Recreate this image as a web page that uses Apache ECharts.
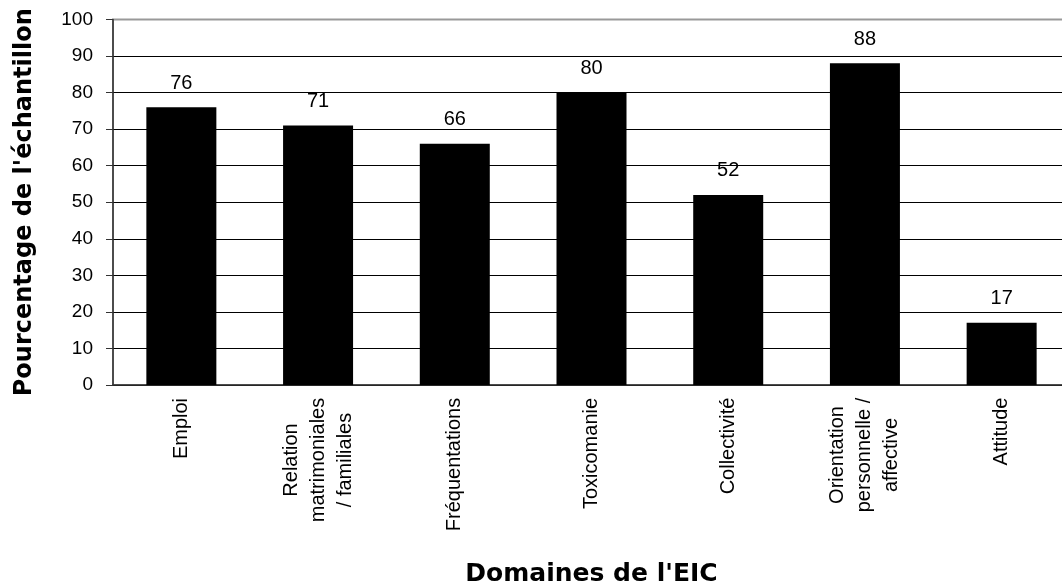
<!DOCTYPE html>
<html>
<head>
<meta charset="utf-8" />
<title>Domaines de l'EIC</title>
<script src="https://cdn.jsdelivr.net/npm/echarts@6/dist/echarts.min.js"></script>
<style>
  html, body { margin: 0; padding: 0; background: #fff; }
</style>
</head>
<body>
<div id="main" style="width: 1062px;height:586px;"></div>
<script type="text/javascript">
// données
var categories = ['Emploi', 'Relation\nmatrimoniales\n/ familiales', 'Fréquentations', 'Toxicomanie',
  'Collectivité', 'Orientation\npersonnelle /\naffective', 'Attitude'];
var values = [76, 71, 66, 80, 52, 88, 17];
var yMin = 0, yMax = 100, yStep = 10;

var labelFont = '20px "Liberation Sans", Arial, sans-serif';

// largeur de la plus longue ligne de chaque étiquette, pour centrer les lignes
var ctx = document.createElement('canvas').getContext('2d');
ctx.font = labelFont;
var rich = {};
categories.forEach(function (c, i) {
  var w = 0;
  c.split('\n').forEach(function (line) {
    w = Math.max(w, ctx.measureText(line).width);
  });
  rich['l' + i] = {
    width: Math.ceil(w) + 1,
    align: 'center',
    fontSize: 20,
    fontFamily: '"Liberation Sans", Arial, sans-serif',
    color: '#000',
    lineHeight: 27
  };
});

// grille noire, ligne du haut grise (bord de la zone de tracé)
var gridColors = [];
for (var v = yMin; v < yMax; v += yStep) gridColors.push('#000');
gridColors.push('#999');

var myChart = echarts.init(document.getElementById('main'));
var option = {
  animation: false,
  grid: {
    left: 113,
    top: 19.5,
    width: 957,
    height: 365.5,
    outerBoundsMode: 'none',
    containLabel: false,
    show: true,
    borderColor: '#999',
    borderWidth: 2
  },
  xAxis: {
    type: 'category',
    data: categories,
    name: "Domaines de l'EIC",
    nameLocation: 'middle',
    nameGap: 177,
    nameTextStyle: {
      fontFamily: '"DejaVu Sans", sans-serif',
      fontWeight: 'bold',
      fontSize: 25,
      color: '#000'
    },
    axisLine: { lineStyle: { color: '#333', width: 1.5 } },
    axisTick: { length: 5, lineStyle: { color: '#333' } },
    axisLabel: {
      rotate: 90,
      margin: 12,
      interval: 0,
      formatter: function (value, index) {
        return value.split('\n').map(function (line) {
          return '{l' + index + '|' + line + '}';
        }).join('\n');
      },
      rich: rich
    }
  },
  yAxis: {
    type: 'value',
    min: yMin,
    max: yMax,
    interval: yStep,
    name: "Pourcentage de l'échantillon",
    nameLocation: 'middle',
    nameGap: 76,
    nameTextStyle: {
      fontFamily: '"DejaVu Sans", sans-serif',
      fontWeight: 'bold',
      fontSize: 24,
      color: '#000'
    },
    axisLine: { show: true, lineStyle: { color: '#333', width: 1.5 } },
    axisTick: { show: true, length: 7, lineStyle: { color: '#333' } },
    axisLabel: {
      margin: 20,
      fontSize: 19,
      fontFamily: '"Liberation Sans", Arial, sans-serif',
      color: '#000'
    },
    splitLine: { lineStyle: { color: gridColors, width: 1 } }
  },
  series: [{
    type: 'bar',
    data: values,
    barWidth: 70,
    itemStyle: { color: '#000' },
    label: {
      show: true,
      position: 'top',
      distance: 14,
      fontSize: 20,
      fontFamily: '"Liberation Sans", Arial, sans-serif',
      color: '#000'
    }
  }]
};
myChart.setOption(option);
</script>
</body>
</html>
